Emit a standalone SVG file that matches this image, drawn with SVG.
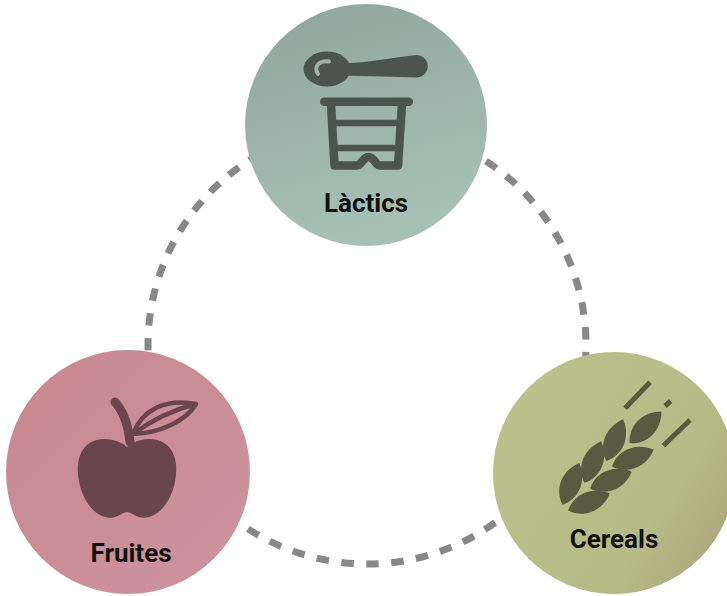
<svg xmlns="http://www.w3.org/2000/svg" width="727" height="596" viewBox="0 0 727 596">
  <defs>
    <linearGradient id="gL" x1="0" y1="0" x2="0.3" y2="1">
      <stop offset="0" stop-color="#8fa59d"/>
      <stop offset="1" stop-color="#a6c0b6"/>
    </linearGradient>
    <linearGradient id="gF" x1="0" y1="0" x2="1" y2="1">
      <stop offset="0" stop-color="#c7878f"/>
      <stop offset="1" stop-color="#cd949d"/>
    </linearGradient>
    <linearGradient id="gC" x1="0" y1="0.2" x2="1" y2="0.8">
      <stop offset="0" stop-color="#bbc28c"/>
      <stop offset="0.7" stop-color="#b5bb86"/>
      <stop offset="1" stop-color="#aba67b"/>
    </linearGradient>
    <path id="grain" d="M0,0 C13,-11 14,-31 0,-45 C-14,-31 -13,-11 0,0 Z"/>
  </defs>
  <style>
    .label { font-family: Roboto, "Liberation Sans", sans-serif; font-weight: 700; font-size: 26px; fill: #111; text-anchor: middle; }
    .dash { fill: none; stroke: #888888; stroke-width: 7; stroke-dasharray: 12.5 12.5; stroke-dashoffset: -7; }
    .cup { fill: none; stroke: #4c5450; stroke-linejoin: round; }
    .wheat { fill: #5a5a40; }
    .wline { stroke: #5a5a40; stroke-width: 5; }
  </style>

  <g id="connectors">
    <circle class="dash" cx="367" cy="345" r="219" pathLength="1375"/>
  </g>

  <g id="node-lactics">
    <circle cx="366" cy="125" r="121" fill="url(#gL)"/>
    <ellipse cx="327" cy="69" rx="23.5" ry="17.5" fill="#4c5450"/>
    <path d="M340,63.5 C365,63 390,58 416,55 A11.2,11.2 0 0 1 417,77.5 C395,77 370,76 340,75.5 Z" fill="#4c5450"/>
    <path d="M329,61.5 C320,60 313,66 318,74" fill="none" stroke="#9ab2a9" stroke-width="4" stroke-linecap="round"/>
    <rect x="320" y="97.5" width="93" height="8.5" rx="4.2" fill="#4c5450"/>
    <path class="cup" stroke-width="8.5" d="M331,104 L334.5,165.5 L357,165.5 C362,165.5 362,157 368.5,157 C375,157 375,165.5 380,165.5 L398,165.5 L402,104"/>
    <path class="cup" stroke-width="6.5" d="M330,123 H403 M331,148 H401"/>
    <text class="label" x="366" y="212">Làctics</text>
  </g>

  <g id="node-fruites">
    <circle cx="128" cy="472" r="122" fill="url(#gF)"/>
    <path d="M115,402 Q127,415 130,442" fill="none" stroke="#6a454b" stroke-width="9" stroke-linecap="round"/>
    <path d="M133,434 C142,410 165,398 196,404 C186,421 160,433 133,434 Z M133,434 C152,420 172,410 196,404" fill="none" stroke="#6a454b" stroke-width="4.5" stroke-linejoin="round"/>
    <path d="M127,447 C115,437 95,436 85,447 C75,458 76,480 84,497 C92,513 104,520 115,517 C121,515 124,512 127,512 C130,512 133,515 139,517 C150,520 162,513 170,497 C178,480 179,458 169,447 C159,436 139,437 127,447 Z" fill="#6a454b"/>
    <text class="label" x="131" y="562">Fruites</text>
  </g>

  <g id="node-cereals">
    <circle cx="614" cy="473" r="121" fill="url(#gC)"/>
    <g transform="translate(565.3,507.6) rotate(45)" class="wheat">
      <use href="#grain" transform="translate(-4,0) rotate(-23)"/>
      <use href="#grain" transform="translate(4,0) rotate(23)"/>
      <use href="#grain" transform="translate(-4,-31) rotate(-23)"/>
      <use href="#grain" transform="translate(4,-31) rotate(23)"/>
      <use href="#grain" transform="translate(-4,-62) rotate(-23)"/>
      <use href="#grain" transform="translate(4,-62) rotate(23)"/>
      <use href="#grain" transform="translate(0,-91)"/>
    </g>
    <path class="wline" d="M625,408.3 L650,382.3 M665,406 L670.7,401 M663.3,445.7 L690,420"/>
    <text class="label" x="614" y="548">Cereals</text>
  </g>
</svg>
